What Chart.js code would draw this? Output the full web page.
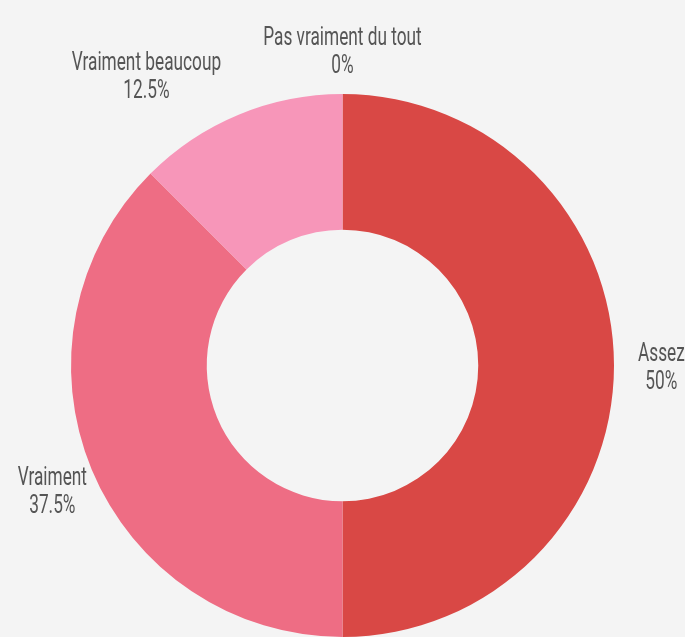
<!DOCTYPE html>
<html>
<head>
<meta charset="utf-8">
<script src="https://cdn.jsdelivr.net/npm/chart.js@4.4.0/dist/chart.umd.min.js"></script>
<style>
  html, body { margin: 0; padding: 0; background: #f4f4f4; }
  #wrap { width: 685px; height: 637px; position: relative; }
</style>
</head>
<body>
<div id="wrap"><canvas id="c"></canvas></div>
<script>
const categories = ['Assez', 'Vraiment', 'Vraiment beaucoup', 'Pas vraiment du tout'];
const values = [50, 37.5, 12.5, 0];
const colors = ['#d94845', '#ee6d84', '#f796b9', '#c0c0c0'];

// no condensed face installed, so squeeze Roboto horizontally
const labelFont = '400 25px Roboto, sans-serif';
const squeeze = 0.69;
const lineGap = 28;

// small hand tweaks so the label blocks sit where the original put them
const labelNudge = [[7, 3], [11, 7], [-11, 2], [0, 1]];

// draws "name / value%" outside each slice, centred block
const outsideLabels = {
  id: 'outsideLabels',
  afterDatasetsDraw(chart) {
    const ctx = chart.ctx;
    const meta = chart.getDatasetMeta(0);
    meta.data.forEach((arc, i) => {
      const lines = [categories[i], values[i] + '%'];
      ctx.save();
      ctx.font = labelFont;
      const w = Math.max(...lines.map(t => ctx.measureText(t).width)) * squeeze;
      const halfW = w / 2, halfH = 25;
      const mid = (arc.startAngle + arc.endAngle) / 2;
      const cx = Math.cos(mid), cy = Math.sin(mid);
      const r = arc.outerRadius + 17;
      let x = arc.x + cx * r + (Math.abs(cx) < 0.2 ? 0 : Math.sign(cx) * halfW);
      let y = arc.y + cy * r + cy * halfH;
      x += labelNudge[i][0];
      y += labelNudge[i][1];
      ctx.fillStyle = '#555555';
      ctx.textAlign = 'center';
      ctx.textBaseline = 'middle';
      ctx.translate(x, y);
      ctx.scale(squeeze, 1);
      lines.forEach((t, k) => ctx.fillText(t, 0, (k - 0.5) * lineGap));
      ctx.restore();
    });
  }
};

new Chart(document.getElementById('c'), {
  type: 'doughnut',
  data: {
    labels: categories,
    datasets: [{
      data: values,
      backgroundColor: colors,
      borderWidth: 0
    }]
  },
  options: {
    responsive: true,
    maintainAspectRatio: false,
    animation: false,
    cutout: '50%',
    layout: { padding: { top: 94, bottom: 0 } },
    plugins: {
      legend: { display: false },
      tooltip: { enabled: false }
    }
  },
  plugins: [outsideLabels]
});
</script>
</body>
</html>
